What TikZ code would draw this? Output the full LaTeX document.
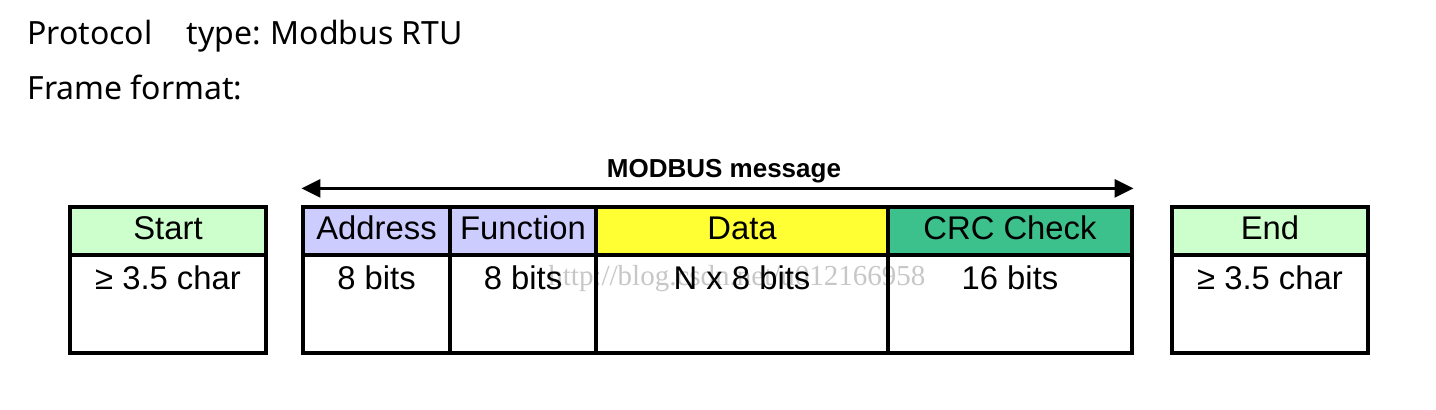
\documentclass[tikz,border=0pt]{standalone}
\usepackage{fontspec}
\setmainfont{Liberation Sans}
\newfontfamily\titlefont{Noto Sans}
\newfontfamily\markfont{Liberation Serif}
\usetikzlibrary{arrows.meta}

\definecolor{startgreen}{RGB}{204,255,204}
\definecolor{fieldblue}{RGB}{204,204,255}
\definecolor{datayellow}{RGB}{255,255,51}
\definecolor{crcgreen}{RGB}{60,192,140}

\begin{document}
\begin{tikzpicture}[x=0.5pt, y=-0.5pt,
    title/.style={anchor=base west, inner sep=0pt, font=\titlefont\fontsize{16pt}{20pt}\selectfont},
    head/.style={draw, line width=1.6pt, minimum height=24pt, inner sep=0pt,
      text height=9pt, text depth=0pt, font=\fontsize{16.4pt}{18pt}\selectfont},
    cell/.style={draw, line width=1.6pt, minimum height=49pt, inner sep=0pt},
    val/.style={anchor=base, inner sep=0pt, font=\fontsize{16.4pt}{18pt}\selectfont},
    wmtext/.style={anchor=base west, inner sep=0pt, text=black!22,
      font=\markfont\fontsize{14.5pt}{16pt}\selectfont},
    msgline/.style={line width=1.5pt, {Triangle[length=9.5pt, width=9pt]}-{Triangle[length=9.5pt, width=9pt]}},
    msglabel/.style={midway, anchor=base, yshift=5.5pt, xshift=3.25pt, inner sep=0pt,
      font=\bfseries\fontsize{13pt}{15pt}\selectfont}]
    \useasboundingbox (0,0) rectangle (1436,410);

    % Heading
    \node[title] (proto) at (27,45) {Protocol\hspace{17pt}type:\hspace{5pt}Modbus RTU};
    \node[title] (frame) at (27,100) {Frame format:};

    % Watermark
    \node[wmtext] (wm) at (548,286) {http://blog.csdn.net/u012166958};

    % Frame fields
    \foreach \name/\x/\w/\col/\head/\val in {
        start/168/98/startgreen/Start/{≥ 3.5 char},
        addr/376.5/73.5/fieldblue/Address/8 bits,
        func/523/73/fieldblue/Function/8 bits,
        data/742/146/datayellow/Data/N x 8 bits,
        crc/1010/122/crcgreen/CRC Check/16 bits,
        stop/1270/98/startgreen/End/{≥ 3.5 char}} {
      \node[cell, minimum width=\w pt] (\name-b) at (\x,304) {};
      \node[head, fill=\col, minimum width=\w pt] (\name-h) at (\x,231) {\head};
      \node[val] (\name-v) at (\x,290) {\val};
    }

    % Message span
    \draw[msgline] ([yshift=8.5pt]addr-h.north west) --
      node (msg) [msglabel] {MODBUS message} ([yshift=8.5pt]crc-h.north east);
\end{tikzpicture}
\end{document}
